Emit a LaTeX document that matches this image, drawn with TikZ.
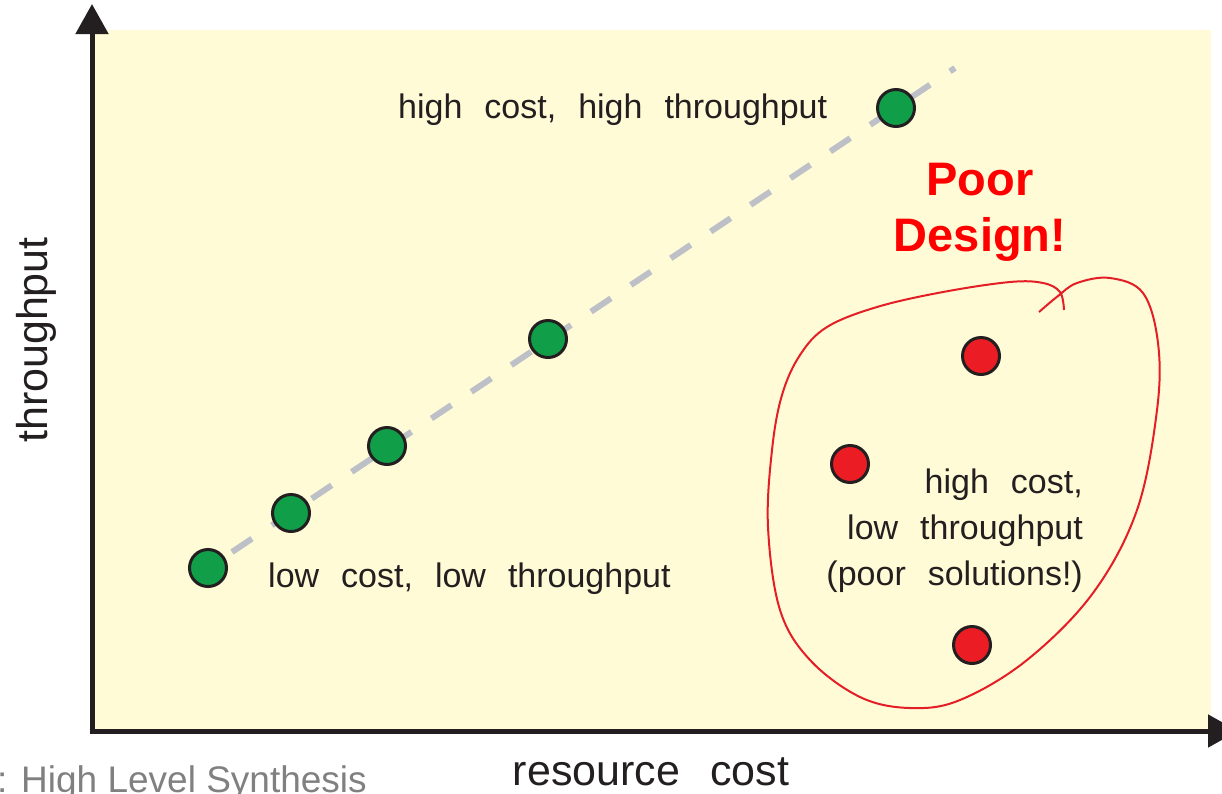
\documentclass[tikz,border=0pt]{standalone}
\usepackage{fontspec}
\setmainfont{Liberation Sans}
\usetikzlibrary{arrows.meta}
\definecolor{ink}{RGB}{35,31,32}
\definecolor{bgyellow}{RGB}{255,251,214}
\definecolor{dotgreen}{RGB}{16,158,72}
\definecolor{dotred}{RGB}{236,28,36}
\definecolor{loopred}{RGB}{228,30,38}
\definecolor{dashgray}{RGB}{190,192,200}
\definecolor{textred}{RGB}{255,0,0}
\definecolor{srcgray}{RGB}{128,128,128}
\newcommand\lblfont{\fontsize{34}{46}\selectfont\setlength{\spaceskip}{22pt}}
\newcommand\axfont{\fontsize{43}{50}\selectfont\setlength{\spaceskip}{30pt}}
\begin{document}
\begin{tikzpicture}[x=1pt,y=-1pt,
  dot/.style={circle, draw=ink, line width=3pt, minimum size=37pt, inner sep=0pt},
  gdot/.style={dot, fill=dotgreen},
  rdot/.style={dot, fill=dotred},
  lbl/.style={font=\lblfont, text=ink, inner sep=0pt},
  axislbl/.style={font=\axfont, text=ink, inner sep=0pt},
  warn/.style={font=\fontsize{47}{56}\selectfont\bfseries, text=textred, inner sep=0pt},
  axisline/.style={line width=5pt, draw=ink, -{Triangle[length=30pt,width=32pt]}},
]
\useasboundingbox (0,0) rectangle (1222,793);
\fill[bgyellow] (95,30) rectangle (1211,731);
% dashed trend line
\coordinate (ls) at (232,552);
\coordinate (le) at (955,68);
\draw[dashgray, line width=6pt, dash pattern=on 24pt off 24pt] (ls) -- (le);
% axes
\coordinate (ybase) at (92,733.5);
\coordinate (xbase) at (89.5,731);
\coordinate (ytip) at (92,4);
\coordinate (xtip) at (1238,731);
\draw[axisline] (ybase) -- (ytip);
\draw[axisline] (xbase) -- (xtip);
% green dots
\node[gdot] (g1) at (208,568) {};
\node[gdot] (g2) at (291,513) {};
\node[gdot] (g3) at (387,446) {};
\node[gdot] (g4) at (548,339) {};
\node[gdot] (g5) at (896,108) {};
% red dots
\node[rdot] (r1) at (981,356) {};
\node[rdot] (r2) at (850,464) {};
\node[rdot] (r3) at (972,645) {};
% loop
\draw[loopred, line width=2pt] plot[smooth, tension=0.6] coordinates {
 (1039,312) (1058,296) (1077,283) (1110,278) (1143,293) (1158,343) (1157,410)
 (1137,510) (1093,593) (1027,660) (960,700) (910,708) (860,697) (810,660)
 (780,610) (768,527) (772,450) (782,395) (800,355) (827,327) (877,307) (943,292)
 (1010,282) (1043,283) (1060,292) (1064,310)};
% labels
\node[lbl, anchor=base west] (thigh) at (398,118) {high cost, high throughput};
\node[lbl, anchor=base west] (tlow) at (268,587) {low cost, low throughput};
\node[lbl, anchor=base east] (tp1) at (1083,493) {high cost,};
\node[lbl, anchor=base east] (tp2) at (1083,539) {low throughput};
\node[lbl, anchor=base east] (tp3) at (1083,585) {(poor solutions!)};
\node[warn, anchor=base] (w1) at (980,195) {Poor};
\node[warn, anchor=base] (w2) at (980,251) {Design!};
\node[axislbl, anchor=base, rotate=90] (ylab) at (47,340) {throughput};
\node[axislbl, anchor=base] (xlab) at (651,785) {resource cost};
\node[font=\fontsize{37}{44}\selectfont, text=srcgray, inner sep=0pt, anchor=base west] (src) at (-3,792) {: High Level Synthesis};
\end{tikzpicture}
\end{document}
